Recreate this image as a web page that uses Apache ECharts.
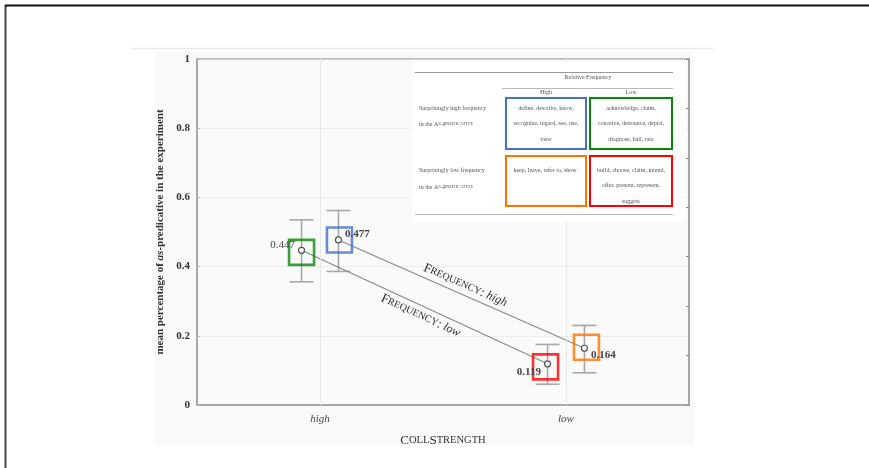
<!DOCTYPE html>
<html>
<head>
<meta charset="utf-8">
<script src="https://cdn.jsdelivr.net/npm/echarts/dist/echarts.min.js"></script>
<style>
html,body{margin:0;padding:0;background:#fff;}
#c{width:869px;height:468px;}
</style>
</head>
<body>
<div id="c"></div>
<script>
// ---- data ----
const categories = ['high', 'low'];              // CollStrength
const freqGroups = ['high', 'low'];              // Frequency
const freqHighMeans = [0.477, 0.164];
const freqHighLower = [0.386, 0.093];
const freqHighUpper = [0.562, 0.230];
const freqLowMeans  = [0.447, 0.119];
const freqLowLower  = [0.356, 0.060];
const freqLowUpper  = [0.535, 0.175];
const yTickLabels = ['0', '0.2', '0.4', '0.6', '0.8', '1'];

const tableTitle = 'Relative Frequency';
const tableColHeads = ['High', 'Low'];
const tableRowHeads = [['Surprisingly high frequency', 'in the As-Predicative'],
                       ['Surprisingly low frequency', 'in the As-Predicative']];
const cellHighHigh = ['define, describe, know,', 'recognize, regard, see, use,', 'view'];
const cellHighLow  = ['acknowledge, claim,', 'conceive, denounce, depict,', 'diagnose, hail, rate'];
const cellLowHigh  = ['keep, leave, refer to, show'];
const cellLowLow   = ['build, choose, claim, intend,', 'offer, present, represent,', 'suggest'];

// ---- styles ----
const SERIF = '"Liberation Serif","DejaVu Serif",serif';
const OFF = 0.075;
const boxColors = { high: ['#4472c4', '#ff7300'], low: ['#0a870a', '#ff0000'] };

function pts(means, off) { return means.map((v, i) => [i + off, v]); }
function bars(lo, hi, off) { return lo.map((v, i) => [i + off, v, hi[i]]); }

const hiPts = pts(freqHighMeans, OFF);
const loPts = pts(freqLowMeans, -OFF);

function smallCapsRich(word) {
  return '{b|' + word[0].toUpperCase() + '}{s|' + word.slice(1).toUpperCase() + '}';
}

const chart = echarts.init(document.getElementById('c'), null, { renderer: 'canvas' });

const errorBarSeries = {
  type: 'custom',
  xAxisIndex: 1, yAxisIndex: 0,
  z: 3,
  renderItem: function (params, api) {
    const x = api.value(0), lo = api.value(1), hi = api.value(2);
    const a = api.coord([x, lo]), b = api.coord([x, hi]);
    const w = 12;
    const st = { stroke: '#a8a8a8', lineWidth: 1.6 };
    return { type: 'group', children: [
      { type: 'line', shape: { x1: a[0], y1: a[1], x2: b[0], y2: b[1] }, style: st },
      { type: 'line', shape: { x1: a[0] - w, y1: a[1], x2: a[0] + w, y2: a[1] }, style: st },
      { type: 'line', shape: { x1: b[0] - w, y1: b[1], x2: b[0] + w, y2: b[1] }, style: st }
    ]};
  },
  data: bars(freqHighLower, freqHighUpper, OFF).concat(bars(freqLowLower, freqLowUpper, -OFF))
};

const lineRich = {
  b: { fontFamily: SERIF, fontSize: 13, color: '#2a2a2a' },
  s: { fontFamily: SERIF, fontSize: 10, color: '#2a2a2a' },
  n: { fontFamily: SERIF, fontSize: 13, color: '#2a2a2a' },
  i: { fontFamily: SERIF, fontSize: 12, fontStyle: 'italic', color: '#2a2a2a' }
};

function pointSeries(points, name, labelPos) {
  return {
    type: 'scatter', name: 'Frequency: ' + name,
    xAxisIndex: 1, yAxisIndex: 0, z: 7,
    symbol: 'circle', symbolSize: 6,
    itemStyle: { color: '#fafafa', borderColor: '#555', borderWidth: 1.2, opacity: 1 },
    data: points.map((p, i) => ({
      value: p,
      label: {
        show: true, position: labelPos[i].pos, offset: labelPos[i].off, distance: 3,
        formatter: String(p[1]), fontFamily: SERIF, fontSize: 11,
        color: '#444', fontWeight: labelPos[i].bold ? 'bold' : 'normal'
      }
    })),
    markLine: {
      silent: true, symbol: 'none', animation: false,
      lineStyle: { color: '#888', width: 1.1, type: 'solid' },
      label: {
        show: true, position: name === 'high' ? 'insideMiddleTop' : 'insideMiddleBottom',
        distance: 3,
        formatter: smallCapsRich('frequency') + '{n|: }{i|' + name + '}',
        rich: lineRich
      },
      data: [[{ coord: points[0] }, { coord: points[1] }]]
    }
  };
}

function boxSeries(points, colors, shifts, withGrid) {
  const s = {
    type: 'scatter', xAxisIndex: 1, yAxisIndex: 0, z: 6, silent: true,
    symbol: 'rect', symbolSize: 25,
    data: points.map((p, i) => ({
      value: p, symbolOffset: shifts[i],
      itemStyle: { color: 'rgba(0,0,0,0)', borderColor: colors[i], borderWidth: 2.6 }
    }))
  };
  if (withGrid) {
    s.markLine = {
      silent: true, symbol: 'none', animation: false,
      lineStyle: { color: '#e8e8e8', width: 1, type: 'solid' },
      label: { show: false },
      data: categories.map((c, i) => ({ xAxis: i }))
    };
  }
  return s;
}

function tableGraphics() {
  const g = [];
  const txt = (x, y, t, align, size, extra) => g.push({
    type: 'text', x: x, y: y, z: 100,
    style: Object.assign({ text: t, fill: '#555', font: (size || 6) + 'px ' + SERIF,
      align: align || 'center', verticalAlign: 'middle' }, extra || {})
  });
  const hline = (x1, x2, y, c) => g.push({ type: 'line', z: 100,
    shape: { x1: x1, y1: y, x2: x2, y2: y }, style: { stroke: c || '#aaa', lineWidth: 1 } });
  const box = (x, y, w, h, c) => g.push({ type: 'rect', z: 101,
    shape: { x: x, y: y, width: w, height: h }, style: { fill: 'none', stroke: c, lineWidth: 2 } });

  g.push({ type: 'rect', z: 99, shape: { x: 412, y: 62, width: 274, height: 160 }, style: { fill: '#ffffff' } });
  hline(415, 673, 72.5, '#999');
  txt(588, 77, tableTitle);
  hline(502, 673, 88.5, '#bbb');
  txt(546, 92.5, tableColHeads[0]);
  txt(631, 92.5, tableColHeads[1]);
  const rowY = [[108, 124], [170, 187]];
  tableRowHeads.forEach((r, i) => {
    txt(419, rowY[i][0], r[0], 'left');
    g.push({ type: 'text', x: 419, y: rowY[i][1], z: 100, style: {
      text: '{n|in the A}{s|S}{n|-P}{s|REDICATIVE}', align: 'left', verticalAlign: 'middle',
      rich: { n: { font: '6px ' + SERIF, fill: '#555' }, s: { font: '4.6px ' + SERIF, fill: '#555' } } } });
  });
  const cells = [[cellHighHigh, 546, 108], [cellHighLow, 631, 108], [cellLowHigh, 545, 170], [cellLowLow, 631, 170]];
  cells.forEach(c => c[0].forEach((t, k) => txt(c[1], c[2] + k * 15.5, t)));
  box(506, 98, 80, 51, boxColors.high[0]);
  box(590, 98, 82, 51, boxColors.low[0]);
  box(506, 156, 80, 50, boxColors.high[1]);
  box(590, 156, 82, 50, boxColors.low[1]);
  hline(415, 673, 214.5, '#bbb');
  return g;
}

const option = {
  animation: false,
  backgroundColor: '#ffffff',
  graphic: [
    { type: 'line', z: -10, shape: { x1: 5.5, y1: 5, x2: 5.5, y2: 468 }, style: { stroke: '#444', lineWidth: 2 } },
    { type: 'line', z: -10, shape: { x1: 5, y1: 5.5, x2: 869, y2: 5.5 }, style: { stroke: '#111', lineWidth: 2 } },
    { type: 'line', z: -10, shape: { x1: 131, y1: 48.5, x2: 714, y2: 48.5 }, style: { stroke: '#ececec', lineWidth: 1.5 } },
    { type: 'rect', z: -10, shape: { x: 155, y: 52, width: 539, height: 393 }, style: { fill: '#f9f9f9' } }
  ].concat(tableGraphics()),
  grid: { left: 197, top: 59, width: 492, height: 346, show: true, backgroundColor: '#fafafa',
          borderColor: '#a8a8a8', borderWidth: 1.5, containLabel: false },
  xAxis: [
    {
      type: 'category', data: categories, boundaryGap: true,
      axisLine: { show: true, onZero: false, lineStyle: { color: '#a8a8a8', width: 2 } },
      axisTick: { show: false },
      axisLabel: { fontFamily: SERIF, fontSize: 11, fontStyle: 'italic', color: '#444', margin: 9 },
      splitLine: { show: false },
      name: '{b|C}{s|OLL}{b|S}{s|TRENGTH}', nameLocation: 'middle', nameGap: 29,
      nameTextStyle: { rich: {
        b: { fontFamily: SERIF, fontSize: 13, color: '#333' },
        s: { fontFamily: SERIF, fontSize: 10.5, color: '#333' } } }
    },
    { type: 'value', min: -0.5, max: 1.5, show: false, axisLine: { onZero: false }, splitLine: { show: false } }
  ],
  yAxis: [
    {
      type: 'value', min: 0, max: 1, interval: 0.2,
      axisLine: { show: true, onZero: false, lineStyle: { color: '#a8a8a8', width: 2 } },
      axisTick: { show: true, inside: true, length: 3, lineStyle: { color: '#bbb' } },
      axisLabel: { fontFamily: SERIF, fontSize: 11, fontWeight: 'bold', color: '#333', margin: 7,
        formatter: (v) => yTickLabels[Math.round(v * 5)] },
      splitLine: { show: true, lineStyle: { color: '#e2e2e2', type: 'dotted', width: 1 } },
      name: '{n|mean percentage of }{i|as}{n|-predicative in the experiment}',
      nameLocation: 'middle', nameGap: 29, nameRotate: 90,
      nameTextStyle: { rich: {
        n: { fontFamily: SERIF, fontSize: 11, fontWeight: 'bold', color: '#333' },
        i: { fontFamily: SERIF, fontSize: 11, fontWeight: 'bold', fontStyle: 'italic', color: '#333' } } }
    },
    {
      type: 'value', position: 'right', min: 0, max: 7, interval: 1,
      axisLine: { show: true, onZero: false, lineStyle: { color: '#a8a8a8', width: 2 } },
      axisTick: { show: true, inside: true, length: 3, lineStyle: { color: '#888' } },
      axisLabel: { show: false }, splitLine: { show: false }
    }
  ],
  series: [
    errorBarSeries,
    pointSeries(hiPts, freqGroups[0], [
      { pos: 'right', off: [0, -6], bold: true },
      { pos: 'right', off: [0, 7], bold: true }
    ]),
    pointSeries(loPts, freqGroups[1], [
      { pos: 'left', off: [0, -5], bold: false },
      { pos: 'left', off: [0, 8], bold: true }
    ]),
    boxSeries(hiPts, boxColors.high, [[1, 0], [2, -1]], true),
    boxSeries(loPts, boxColors.low, [[0, 2], [-2, 3]], false)
  ]
};
chart.setOption(option);
</script>
</body>
</html>
